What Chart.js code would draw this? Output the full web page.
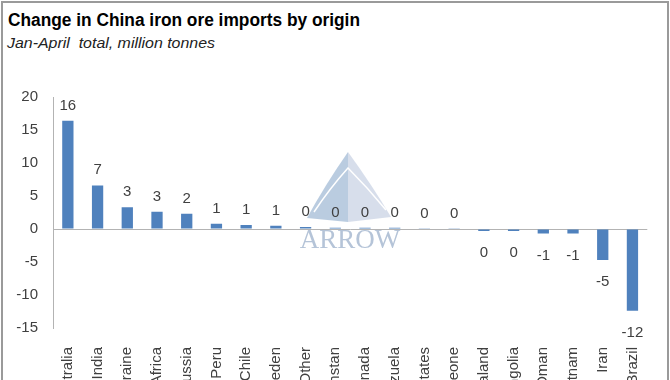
<!DOCTYPE html>
<html>
<head>
<meta charset="utf-8">
<script src="https://cdn.jsdelivr.net/npm/chart.js@4.4.1/dist/chart.umd.min.js"></script>
<style>
  html, body { margin: 0; padding: 0; width: 670px; height: 380px; overflow: hidden; background: #fff; }
  #frame { position: absolute; left: 1px; top: 1px; width: 664px; height: 520px; border: 2px solid #9a9a9a; }
  #chart { position: absolute; left: 0; top: 0; }
  .ttl { position: absolute; white-space: pre; line-height: 1; transform-origin: 0 0; }
  #t1 { left: 8px; top: 10px; font: bold 18px "Liberation Sans", Arial, sans-serif; color: #000; }
  #t2 { left: 7px; top: 34px; font: italic 15px "Liberation Sans", Arial, sans-serif; color: #222; }
</style>
</head>
<body>
<div id="frame"></div>
<div class="ttl" id="t1">Change in China iron ore imports by origin</div>
<div class="ttl" id="t2">Jan-April  total, million tonnes</div>
<canvas id="chart" width="670" height="460"></canvas>
<script>
// values (million tonnes, change Jan-April)
const countries = ["Australia", "India", "Ukraine", "South Africa", "Russia", "Peru", "Chile", "Sweden", "Other",
  "Kazakhstan", "Canada", "Venezuela", "United States", "Sierra Leone", "New Zealand", "Mongolia", "Oman",
  "Vietnam", "Iran", "Brazil"]
const changes = [16.4, 6.6, 3.3, 2.6, 2.3, 0.8, 0.6, 0.5, 0.3, 0.2, 0.2, 0.2, 0.04, 0.03, -0.3, -0.3, -0.7, -0.7, -4.7, -12.4]
const yTicks = [-15, -10, -5, 0, 5, 10, 15, 20]

const barBlue = '#4F81BD'
const textGrey = '#404040'
const axisGrey = '#b3b3b3'

// squeeze the titles to the width they have in the picture (Calibri is narrower)
function fitWidth(id, w) {
  const el = document.getElementById(id)
  const r = el.getBoundingClientRect().width
  el.style.transform = 'scaleX(' + (w / r) + ')'
}
fitWidth('t1', 352)
fitWidth('t2', 208)

// faint "ARROW" watermark behind the bars
const watermark = {
  id: 'watermark',
  beforeDatasetsDraw(chart) {
    const ctx = chart.ctx
    ctx.save()
    ctx.globalAlpha = 0.85
    ctx.fillStyle = '#aec3db'
    ctx.beginPath()
    ctx.moveTo(348, 152)
    ctx.quadraticCurveTo(325, 185, 307, 218)
    ctx.lineTo(348, 222)
    ctx.closePath()
    ctx.fill()
    ctx.fillStyle = '#d0d8e8'
    ctx.beginPath()
    ctx.moveTo(348, 152)
    ctx.quadraticCurveTo(372, 185, 391, 217)
    ctx.lineTo(348, 222)
    ctx.closePath()
    ctx.fill()
    ctx.globalAlpha = 1
    ctx.strokeStyle = '#ffffff'
    ctx.lineWidth = 1.5
    ctx.beginPath()
    ctx.moveTo(314, 212)
    ctx.quadraticCurveTo(330, 188, 348, 168)
    ctx.quadraticCurveTo(368, 188, 386, 210)
    ctx.stroke()
    ctx.fillStyle = '#b5c4d8'
    ctx.font = '27px "Liberation Serif", serif'
    ctx.textAlign = 'center'
    ctx.fillText('ARROW', 350, 248)
    ctx.restore()
  }
}

// rounded value above positive bars, below negative ones
const barLabels = {
  id: 'barLabels',
  afterDatasetsDraw(chart) {
    const ctx = chart.ctx
    const meta = chart.getDatasetMeta(0)
    ctx.save()
    ctx.font = '15px "Liberation Sans", Arial, sans-serif'
    ctx.fillStyle = textGrey
    ctx.textAlign = 'center'
    ctx.textBaseline = 'alphabetic'
    meta.data.forEach((bar, i) => {
      const v = changes[i]
      const txt = String(Math.round(v))
      if (v >= 0) {
        ctx.fillText(txt, bar.x, bar.y - 11)
      } else {
        ctx.fillText(txt, bar.x, bar.y + 26)
      }
    })
    ctx.restore()
  }
}

Chart.defaults.font.family = '"Liberation Sans", Arial, sans-serif'
Chart.defaults.font.size = 15
Chart.defaults.color = textGrey

new Chart(document.getElementById('chart'), {
  type: 'bar',
  data: {
    labels: countries,
    datasets: [{
      data: changes,
      backgroundColor: barBlue,
      borderWidth: 0,
      barPercentage: 0.38,
      categoryPercentage: 1
    }]
  },
  options: {
    responsive: false,
    animation: false,
    devicePixelRatio: 1,
    layout: { padding: { top: 97, right: 22, left: 0, bottom: 0 } },
    plugins: {
      legend: { display: false },
      tooltip: { enabled: false }
    },
    scales: {
      x: {
        grid: { display: false, drawTicks: false },
        border: { display: false },
        ticks: { minRotation: 90, maxRotation: 90, autoSkip: false, padding: 19, color: textGrey },
        afterFit: s => { s.height = 132 }
      },
      y: {
        min: -15,
        max: 20,
        afterBuildTicks: s => { s.ticks = yTicks.map(v => ({ value: v })) },
        grid: {
          drawTicks: false,
          color: c => (c.tick && c.tick.value === 0) ? axisGrey : 'rgba(0,0,0,0)',
          lineWidth: 1
        },
        border: { display: true, color: axisGrey },
        ticks: { padding: 15, color: textGrey },
        afterFit: s => { s.width = 53 }
      }
    }
  },
  plugins: [watermark, barLabels]
})
</script>
</body>
</html>
